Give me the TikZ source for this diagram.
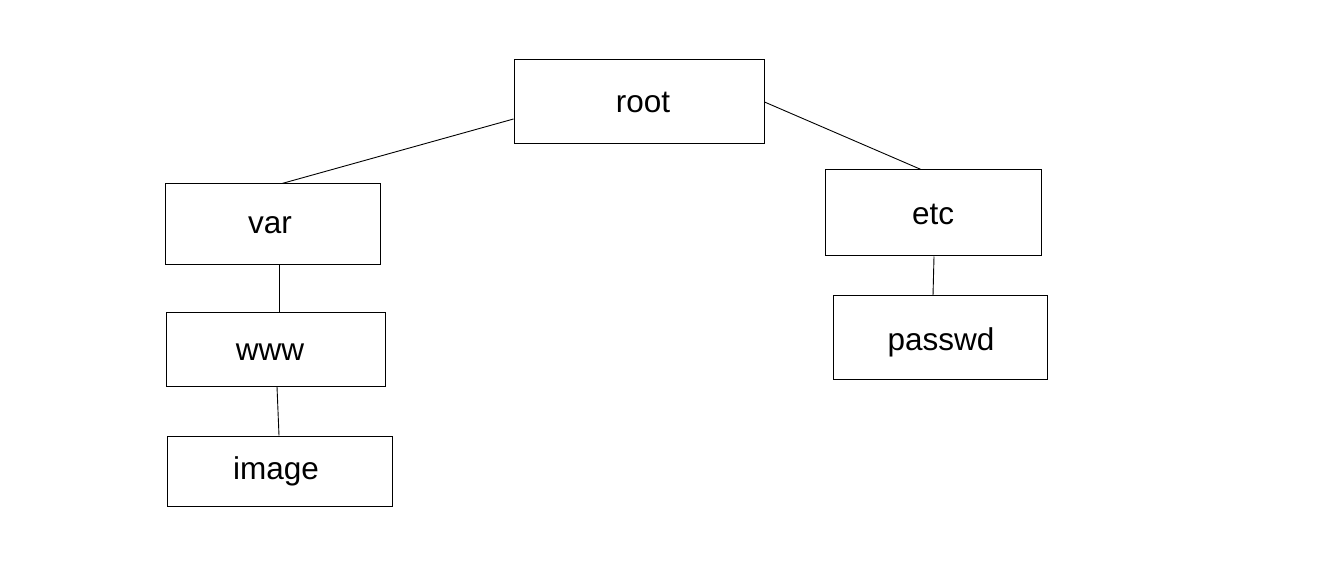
\documentclass[tikz,border=0pt]{standalone}
\usepackage{fontspec}
\setmainfont{Liberation Sans}
\begin{document}
\begin{tikzpicture}[x=1pt,y=-1pt,
  box/.style={draw=black,line width=1pt,rectangle,inner sep=0pt},
  txt/.style={inner sep=0pt,font=\fontsize{31.5}{38}\selectfont},
  link/.style={draw=black,line width=0.9pt}]
\useasboundingbox[fill=white] (0,0) rectangle (1317,585);
\node[box,minimum width=250,minimum height=84] (root) at (639,102) {};
\node[box,minimum width=215,minimum height=81] (var) at (272.5,224.5) {};
\node[box,minimum width=219,minimum height=73] (www) at (275.5,349.5) {};
\node[box,minimum width=225,minimum height=70] (image) at (279.5,471) {};
\node[box,minimum width=216,minimum height=86] (etc) at (933,213) {};
\node[box,minimum width=214,minimum height=83] (passwd) at (940,337.5) {};
\node[txt] (troot) at (643,102) {root};
\node[txt] (tvar) at (270,225.5) {var};
\node[txt] (twww) at (270,352.5) {www};
\node[txt] (timage) at (276,471.5) {image};
\node[txt] (tetc) at (933,214) {etc};
\node[txt] (tpasswd) at (941,342) {passwd};
\draw[link] ([yshift=-17pt]root.west) -- ([xshift=9.5pt]var.north);
\draw[link] (root.east) -- ([xshift=-12pt]etc.north);
\draw[link] ([xshift=6.5pt]var.south) -- ([xshift=3.5pt]www.north);
\draw[link] ([xshift=1.5pt]www.south) -- ([xshift=-0.5pt]image.north);
\draw[link] ([xshift=1pt]etc.south) -- ([xshift=-7pt]passwd.north);
\end{tikzpicture}
\end{document}
